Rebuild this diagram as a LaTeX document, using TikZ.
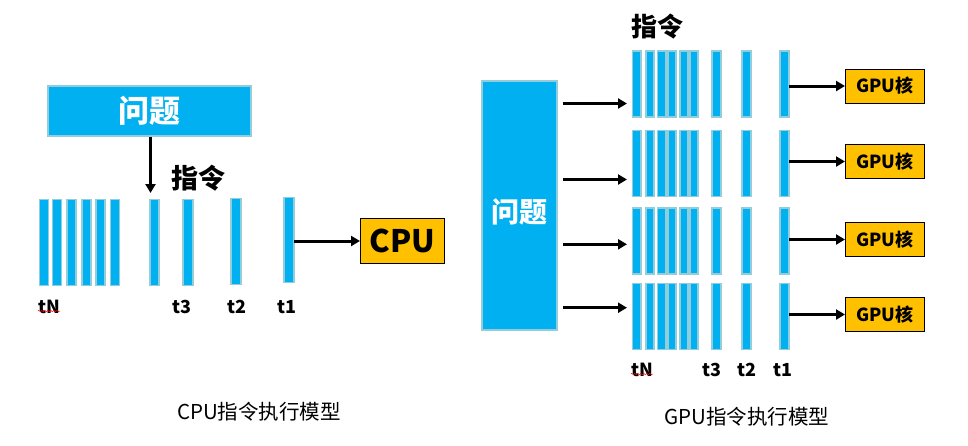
\documentclass[tikz,border=0pt]{standalone}
\usepackage{fontspec}
\setmainfont{Noto Sans CJK SC}
\usetikzlibrary{arrows.meta,decorations.pathmorphing}
\definecolor{barfill}{HTML}{00B0F0}
\definecolor{barline}{HTML}{92CDDC}
\definecolor{gold}{HTML}{FFC000}
\tikzset{
  barst/.style={fill=barfill,draw=barline,line width=1.6pt,inner sep=0pt,outer sep=0pt},
  qbox/.style={fill=barfill,draw=barline,line width=1.6pt,inner sep=0pt,text=white,font=\bfseries},
  core/.style={fill=gold,draw=black,line width=1pt,inner sep=0pt,font=\bfseries},
  arr/.style={line width=3pt,-{Triangle[length=9pt,width=10pt]}},
  tlab/.style={font=\bfseries\fontsize{18}{18}\selectfont,inner sep=0pt},
  captxt/.style={font=\fontsize{20.5}{20.5}\selectfont,inner sep=0pt},
  squig/.style={red,line width=0.5pt,decorate,decoration={snake,amplitude=0.7pt,segment length=3pt}}
}
\newcommand\ibar[5]{\node[barst,minimum width=#4pt,minimum height=#5pt] (#1) at (#2,#3) {};}
\begin{document}
\begin{tikzpicture}[x=1pt,y=-1pt]
\useasboundingbox (0,0) rectangle (968,445);
% ---------------- CPU side ----------------
\node[qbox,minimum width=203pt,minimum height=50pt,font=\bfseries\fontsize{31}{31}\selectfont] (q1) at (149.5,111) {问题};
\ibar{c1}{44}{242.5}{9}{86}
\ibar{c2}{57}{242.5}{9}{86}
\ibar{c3}{71.7}{242.5}{9}{86}
\ibar{c4}{86.7}{242.5}{9}{86}
\ibar{c5}{100.7}{242.5}{9}{86}
\ibar{c6}{115}{242.5}{9}{86}
\ibar{c7}{154.5}{242.5}{9.5}{86}
\ibar{c8}{188}{242.5}{9.5}{86}
\ibar{c9}{236}{241.5}{10.5}{86}
\ibar{c10}{289}{240}{10.5}{85}
\node[core,minimum width=84pt,minimum height=45pt,font=\bfseries\fontsize{31}{31}\selectfont] (cpu) at (402.5,241) {CPU};
\coordinate (ctip) at (150.5,193);
\draw[arr] (q1.south -| ctip) -- (ctip);
\draw[arr] (c10.east |- cpu.west) -- (cpu.west);
\node[font=\bfseries\fontsize{27}{27}\selectfont,inner sep=0pt] (ins1) at (198,178) {指令};
\node[tlab] (ltN) at (49,307) {tN};
\node[tlab] (lt3) at (182,307) {t3};
\node[tlab] (lt2) at (237,307) {t2};
\node[tlab] (lt1) at (287,307) {t1};
\draw[squig] ([yshift=3pt]ltN.south west) -- ([yshift=3pt]ltN.south east);
\node[captxt] (cap1) at (259,412) {CPU指令执行模型};
% ---------------- GPU side ----------------
\node[qbox,minimum width=75pt,minimum height=249pt] (q2) at (519.5,205.5) {};
\node[text=white,font=\bfseries\fontsize{28}{28}\selectfont,inner sep=0pt] (q2t) at (519,212) {问题};
\node[font=\bfseries\fontsize{26}{26}\selectfont,inner sep=0pt] (ins2) at (657,27) {指令};
\foreach \r/\cy/\gy/\ay in {1/84.2/86/103.5, 2/163.5/161.5/179.5, 3/240.8/239.5/244.3, 4/316.5/314.5/307.7}{
  \ibar{g\r a}{636.7}{\cy}{8.5}{66}
  \ibar{g\r b}{650}{\cy}{8.5}{66}
  \ibar{g\r c}{661.7}{\cy}{8.5}{66}
  \ibar{g\r d}{672}{\cy}{8.5}{66}
  \ibar{g\r e}{684}{\cy}{8.5}{66}
  \ibar{g\r f}{694}{\cy}{8.5}{66}
  \ibar{g\r g}{716.5}{\cy}{9.5}{66}
  \ibar{g\r h}{746.5}{\cy}{9.5}{66}
  \ibar{g\r i}{784.5}{\cy}{9.5}{66}
  \node[core,minimum width=79pt,minimum height=34pt,font=\bfseries\fontsize{18}{18}\selectfont] (gpu\r) at (885,\gy) {GPU核};
  \coordinate (gt\r) at (627,\ay);
  \draw[arr] ([xshift=5pt]q2.east |- gt\r) -- (gt\r);
  \draw[arr] (g\r i.east |- gpu\r.west) -- (gpu\r.west);
}
\node[tlab] (gtN) at (642,370) {tN};
\node[tlab] (gt3) at (712,370) {t3};
\node[tlab] (gt2) at (747,370) {t2};
\node[tlab] (gt1) at (783,370) {t1};
\draw[squig] ([yshift=3pt]gtN.south west) -- ([yshift=3pt]gtN.south east);
\node[captxt] (cap2) at (747,417) {GPU指令执行模型};
\end{tikzpicture}
\end{document}
